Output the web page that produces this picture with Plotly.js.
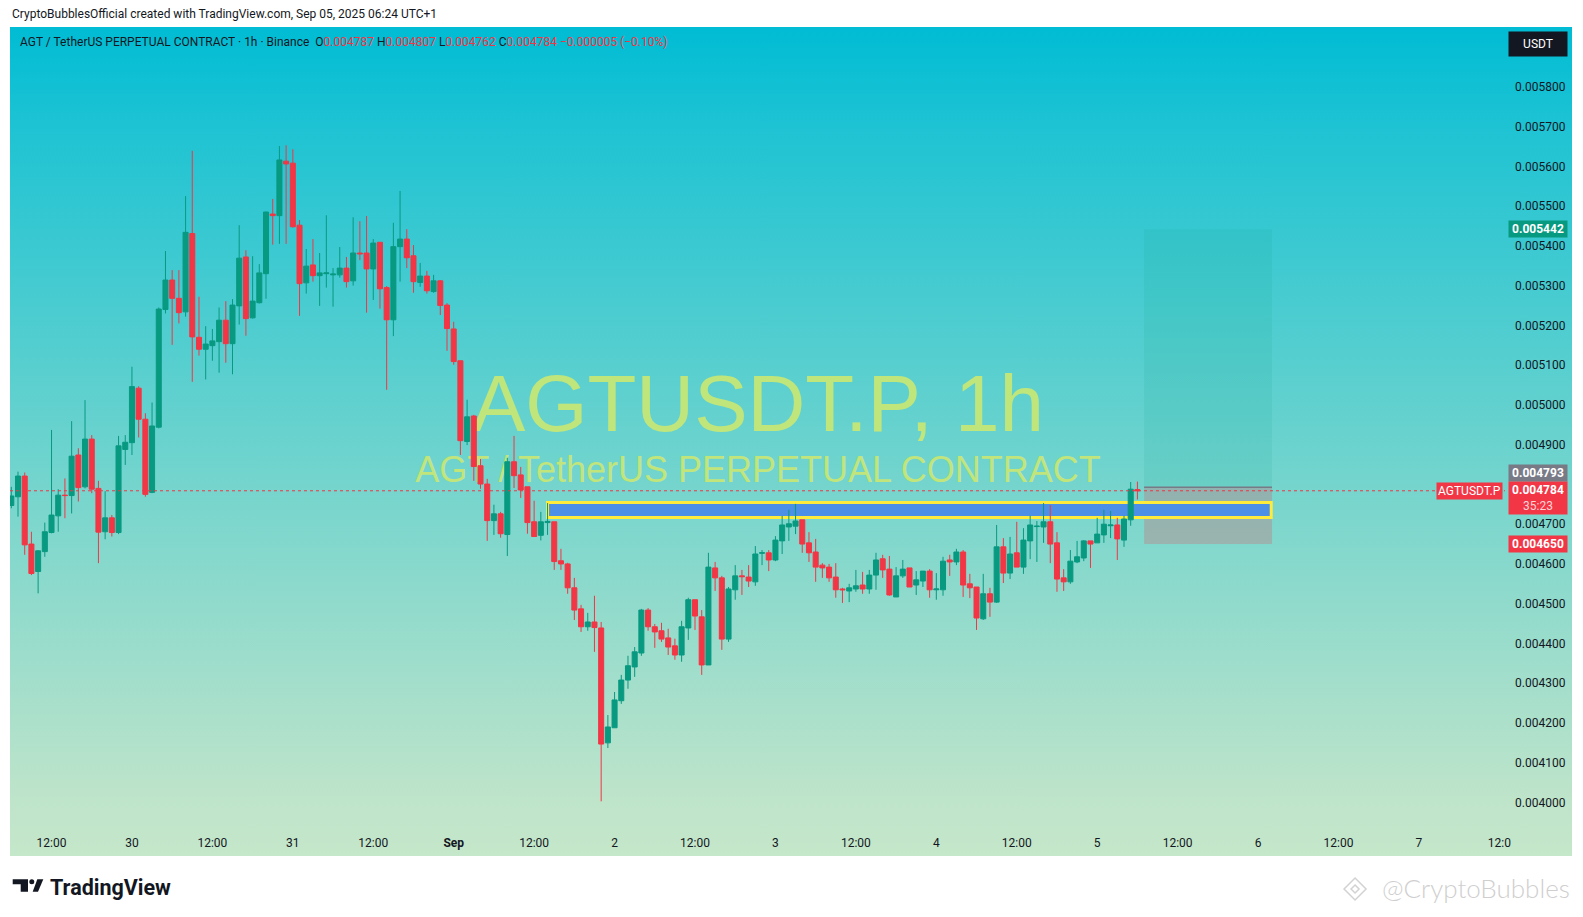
<!DOCTYPE html>
<html><head><meta charset="utf-8">
<script src="https://cdn.plot.ly/plotly-3.0.1.min.js"></script>
<style>
html,body{margin:0;padding:0;background:#fff;overflow:hidden}
#frame{position:absolute;left:10px;top:27px;width:1562px;height:829px;
background:linear-gradient(180deg,rgb(0,188,212) 0%,rgb(30,195,211) 12%,rgb(118,213,205) 56%,rgb(190,228,202) 93%,rgb(197,231,202) 100%);}
#chart{position:absolute;left:0;top:0;width:1583px;height:917px}
</style></head><body>
<div id="frame"></div><div id="chart"></div>
<script>
// AGT/USDT perpetual, 1h candles, first candle 2025-08-29 06:00
const firstCandle = '2025-08-29T06:00:00Z';
const openP = [0.004747,0.004769,0.004821,0.004650,0.004581,0.004631,0.004679,0.004721,0.004773,0.004772,
0.004874,0.004794,0.004914,0.004790,0.004681,0.004716,0.004679,0.004888,0.004905,0.005042,
0.004964,0.004780,0.004944,0.005240,0.005314,0.005268,0.005234,0.005431,0.005170,0.005140,
0.005149,0.005159,0.005213,0.005154,0.005249,0.005372,0.005219,0.005257,0.005330,0.005480,
0.005476,0.005613,0.005608,0.005452,0.005307,0.005352,0.005325,0.005330,0.005327,0.005327,
0.005344,0.005312,0.005382,0.005382,0.005342,0.005409,0.005295,0.005214,0.005398,0.005417,
0.005375,0.005308,0.005324,0.005285,0.005312,0.005251,0.005191,0.005111,0.004908,0.004972,
0.004847,0.004801,0.004709,0.004726,0.004674,0.004857,0.004824,0.004794,0.004706,0.004672,
0.004704,0.004706,0.004608,0.004600,0.004540,0.004487,0.004442,0.004454,0.004439,0.004150,
0.004188,0.004256,0.004308,0.004341,0.004376,0.004484,0.004442,0.004432,0.004414,0.004394,
0.004371,0.004439,0.004510,0.004467,0.004346,0.004590,0.004565,0.004411,0.004535,0.004570,
0.004567,0.004555,0.004627,0.004628,0.004610,0.004658,0.004693,0.004695,0.004711,0.004653,
0.004630,0.004597,0.004592,0.004567,0.004537,0.004532,0.004537,0.004547,0.004537,0.004572,
0.004613,0.004587,0.004517,0.004570,0.004590,0.004547,0.004557,0.004582,0.004535,0.004535,
0.004610,0.004605,0.004630,0.004550,0.004542,0.004462,0.004525,0.004504,0.004643,0.004577,
0.004628,0.004592,0.004658,0.004694,0.004693,0.004706,0.004653,0.004565,0.004555,0.004605,
0.004615,0.004658,0.004653,0.004673,0.004696,0.004698,0.004660,0.004711,0.004787];
const highP = [0.004794,0.004832,0.004830,0.004681,0.004635,0.004704,0.004937,0.004788,0.004815,0.004959,
0.004891,0.005012,0.004924,0.004809,0.004783,0.004723,0.004922,0.004924,0.005096,0.005047,
0.004979,0.005006,0.005245,0.005387,0.005339,0.005339,0.005525,0.005639,0.005272,0.005198,
0.005191,0.005245,0.005261,0.005266,0.005452,0.005389,0.005374,0.005354,0.005486,0.005518,
0.005651,0.005653,0.005643,0.005465,0.005392,0.005417,0.005382,0.005477,0.005344,0.005397,
0.005372,0.005472,0.005462,0.005475,0.005417,0.005409,0.005299,0.005458,0.005538,0.005442,
0.005402,0.005357,0.005337,0.005327,0.005314,0.005256,0.005209,0.005111,0.005013,0.004975,
0.004864,0.004814,0.004749,0.004731,0.004867,0.004922,0.004844,0.004794,0.004759,0.004731,
0.004753,0.004706,0.004638,0.004603,0.004565,0.004497,0.004477,0.004520,0.004454,0.004220,
0.004278,0.004321,0.004369,0.004391,0.004487,0.004489,0.004449,0.004452,0.004437,0.004412,
0.004457,0.004515,0.004510,0.004484,0.004628,0.004605,0.004570,0.004542,0.004597,0.004585,
0.004597,0.004645,0.004635,0.004635,0.004670,0.004721,0.004736,0.004751,0.004711,0.004680,
0.004663,0.004602,0.004600,0.004602,0.004540,0.004550,0.004585,0.004580,0.004585,0.004628,
0.004623,0.004620,0.004592,0.004610,0.004590,0.004582,0.004582,0.004587,0.004577,0.004618,
0.004623,0.004638,0.004635,0.004575,0.004542,0.004575,0.004540,0.004698,0.004665,0.004668,
0.004706,0.004690,0.004721,0.004708,0.004753,0.004748,0.004680,0.004587,0.004635,0.004658,
0.004660,0.004658,0.004716,0.004736,0.004733,0.004716,0.004721,0.004806,0.004807];
const lowP = [0.004740,0.004719,0.004623,0.004572,0.004526,0.004618,0.004677,0.004681,0.004715,0.004727,
0.004757,0.004790,0.004778,0.004602,0.004662,0.004669,0.004675,0.004849,0.004874,0.004918,
0.004769,0.004778,0.004941,0.005230,0.005151,0.005205,0.005222,0.005058,0.005124,0.005064,
0.005111,0.005081,0.005106,0.005077,0.005202,0.005174,0.005217,0.005255,0.005267,0.005403,
0.005405,0.005405,0.005446,0.005224,0.005280,0.005310,0.005249,0.005295,0.005247,0.005320,
0.005295,0.005300,0.005364,0.005232,0.005264,0.005242,0.005038,0.005173,0.005310,0.005344,
0.005282,0.005297,0.005280,0.005282,0.005226,0.005136,0.005101,0.004874,0.004899,0.004809,
0.004789,0.004658,0.004673,0.004666,0.004620,0.004791,0.004766,0.004676,0.004668,0.004659,
0.004673,0.004585,0.004585,0.004525,0.004459,0.004429,0.004432,0.004379,0.004003,0.004137,
0.004188,0.004248,0.004286,0.004316,0.004369,0.004432,0.004389,0.004404,0.004371,0.004359,
0.004354,0.004409,0.004434,0.004321,0.004346,0.004532,0.004384,0.004404,0.004510,0.004522,
0.004542,0.004545,0.004597,0.004582,0.004607,0.004625,0.004658,0.004675,0.004628,0.004605,
0.004555,0.004565,0.004555,0.004515,0.004502,0.004504,0.004530,0.004525,0.004525,0.004535,
0.004565,0.004520,0.004517,0.004565,0.004542,0.004522,0.004542,0.004515,0.004510,0.004520,
0.004570,0.004597,0.004517,0.004514,0.004434,0.004459,0.004467,0.004502,0.004552,0.004562,
0.004592,0.004575,0.004612,0.004605,0.004653,0.004602,0.004530,0.004532,0.004550,0.004602,
0.004607,0.004590,0.004653,0.004653,0.004665,0.004610,0.004643,0.004696,0.004762];
const closeP = [0.004771,0.004821,0.004648,0.004576,0.004633,0.004681,0.004723,0.004773,0.004772,0.004871,
0.004792,0.004914,0.004788,0.004680,0.004716,0.004679,0.004897,0.004906,0.005046,0.004964,
0.004775,0.004947,0.005241,0.005314,0.005268,0.005232,0.005434,0.005171,0.005140,0.005153,
0.005161,0.005213,0.005154,0.005251,0.005369,0.005217,0.005261,0.005332,0.005485,0.005476,
0.005616,0.005606,0.005448,0.005305,0.005349,0.005325,0.005332,0.005332,0.005329,0.005344,
0.005310,0.005382,0.005380,0.005342,0.005407,0.005292,0.005214,0.005398,0.005417,0.005370,
0.005310,0.005324,0.005287,0.005312,0.005250,0.005192,0.005109,0.004910,0.004970,0.004845,
0.004801,0.004709,0.004726,0.004676,0.004857,0.004822,0.004786,0.004704,0.004669,0.004706,
0.004707,0.004606,0.004600,0.004540,0.004484,0.004442,0.004454,0.004440,0.004147,0.004190,
0.004258,0.004308,0.004344,0.004379,0.004484,0.004442,0.004429,0.004411,0.004391,0.004371,
0.004442,0.004510,0.004469,0.004346,0.004592,0.004565,0.004411,0.004537,0.004570,0.004568,
0.004557,0.004625,0.004628,0.004610,0.004660,0.004698,0.004701,0.004708,0.004650,0.004628,
0.004592,0.004590,0.004565,0.004535,0.004535,0.004540,0.004545,0.004537,0.004572,0.004610,
0.004585,0.004522,0.004570,0.004587,0.004542,0.004560,0.004582,0.004535,0.004537,0.004607,
0.004605,0.004630,0.004547,0.004540,0.004464,0.004525,0.004504,0.004643,0.004577,0.004625,
0.004592,0.004660,0.004698,0.004695,0.004706,0.004650,0.004562,0.004555,0.004607,0.004618,
0.004658,0.004650,0.004675,0.004700,0.004698,0.004663,0.004713,0.004788,0.004784];

const tickDates = ['2025-08-29 12:00','2025-08-30 00:00','2025-08-30 12:00','2025-08-31 00:00','2025-08-31 12:00',
'2025-09-01 00:00','2025-09-01 12:00','2025-09-02 00:00','2025-09-02 12:00','2025-09-03 00:00','2025-09-03 12:00',
'2025-09-04 00:00','2025-09-04 12:00','2025-09-05 00:00','2025-09-05 12:00','2025-09-06 00:00','2025-09-06 12:00',
'2025-09-07 00:00','2025-09-07 12:00'];
const tickLabels = ['12:00','30','12:00','31','12:00','<b>Sep</b>','12:00','2','12:00','3','12:00','4','12:00','5','12:00','6','12:00','7','12:0'];
// price scale labels visible in the reference (0.004800 is hidden behind the price tags)
const priceTicks = [0.0040,0.0041,0.0042,0.0043,0.0044,0.0045,0.0046,0.0047,0.0049,0.0050,0.0051,0.0052,0.0053,0.0054,0.0055,0.0056,0.0057,0.0058];

const lastPrice = 0.004784;
const entryPrice = 0.004793;
const targetPrice = 0.005442;
const stopPrice = 0.004650;
const zoneTop = 0.0047545, zoneBottom = 0.004717;
const zoneStart = '2025-09-01 14:00', zoneEnd = '2025-09-06 01:58';
const posStart = '2025-09-05 07:00', posEnd = '2025-09-06 02:05';
const countdown = '35:23';
const ohlcHeader = {o:'0.004787', h:'0.004807', l:'0.004762', c:'0.004784', chg:'−0.000005 (−0.10%)'};

const t0 = Date.parse(firstCandle);
const times = openP.map((_, i) => new Date(t0 + i*3600000).toISOString().slice(0,16).replace('T',' '));

const GREEN = '#089981', RED = '#f23645', TXT = '#131722';
const FONT = 'Roboto, "Liberation Sans", Arial, sans-serif';

const trace = {
  type:'candlestick', x:times, open:openP, high:highP, low:lowP, close:closeP,
  increasing:{line:{color:GREEN,width:1}, fillcolor:GREEN},
  decreasing:{line:{color:RED,width:1}, fillcolor:RED},
  whiskerwidth:0, hoverinfo:'skip', showlegend:false
};

const wmColor = 'rgba(205,232,112,0.88)';
const shapes = [
  {type:'rect', xref:'paper', yref:'paper', x0:0.2003, x1:0.8003, y0:0.5105, y1:0.5705, layer:'below',
   line:{width:0}, fillcolor:'rgba(0,0,0,0)',
   label:{text:'AGTUSDT.P, 1h', textposition:'middle center', font:{size:80, color:wmColor, family:'"Liberation Sans", Arial, sans-serif'}}},
  {type:'rect', xref:'paper', yref:'paper', x0:0.2003, x1:0.8003, y0:0.4307, y1:0.4707, layer:'below',
   line:{width:0}, fillcolor:'rgba(0,0,0,0)',
   label:{text:'AGT / TetherUS PERPETUAL CONTRACT', textposition:'middle center', font:{size:36, color:wmColor, family:'"Liberation Sans", Arial, sans-serif'}}},
  {type:'rect', xref:'x', yref:'y', x0:posStart, x1:posEnd, y0:entryPrice, y1:targetPrice, layer:'below',
   line:{width:0}, fillcolor:'rgba(8,153,129,0.1)'},
  {type:'rect', xref:'x', yref:'y', x0:posStart, x1:posEnd, y0:stopPrice, y1:entryPrice, layer:'below',
   line:{width:0}, fillcolor:'rgba(242,54,69,0.22)'},
  {type:'line', xref:'x', yref:'y', x0:posStart, x1:posEnd, y0:entryPrice, y1:entryPrice, layer:'below',
   line:{color:'#787b86', width:1.5}},
  {type:'rect', xref:'x', yref:'y', x0:zoneStart, x1:zoneEnd, y0:zoneBottom, y1:zoneTop, layer:'below',
   line:{color:'#ffeb3b', width:3}, fillcolor:'#4c8fe6'},
  {type:'line', xref:'paper', yref:'y', x0:0, x1:1, y0:lastPrice, y1:lastPrice, layer:'above',
   line:{color:RED, width:1, dash:'dot'}},
  // TradingView logo
  {type:'path', xref:'paper', yref:'paper', xsizemode:'pixel', ysizemode:'pixel', xanchor:0, yanchor:0,
   path:'M2.7,-51.3 L18,-51.3 L18,-63.7 L10.7,-63.7 L10.7,-56.3 L2.7,-56.3 Z', fillcolor:TXT, line:{width:0}},
  {type:'circle', xref:'paper', yref:'paper', xsizemode:'pixel', ysizemode:'pixel', xanchor:0, yanchor:0,
   x0:19.3, x1:24.3, y0:-56.3, y1:-51.3, fillcolor:TXT, line:{width:0}},
  {type:'path', xref:'paper', yref:'paper', xsizemode:'pixel', ysizemode:'pixel', xanchor:0, yanchor:0,
   path:'M22.7,-63.7 L28,-63.7 L33.3,-51.3 L27.3,-51.3 Z', fillcolor:TXT, line:{width:0}},
  // Binance-style diamond
  {type:'path', xref:'paper', yref:'paper', xsizemode:'pixel', ysizemode:'pixel', xanchor:0.8997, yanchor:-0.07615,
   path:'M0,11 L11,0 L0,-11 L-11,0 Z', fillcolor:'rgba(0,0,0,0)', line:{color:'#d2d2d2', width:1.5}},
  {type:'path', xref:'paper', yref:'paper', xsizemode:'pixel', ysizemode:'pixel', xanchor:0.8997, yanchor:-0.07615,
   path:'M0,4 L4,0 L0,-4 L-4,0 Z', fillcolor:'rgba(0,0,0,0)', line:{color:'#d2d2d2', width:1.5}}
];

function priceLabel(y, text, bg, yshift) {
  return {xref:'paper', yref:'y', x:1, y:y, xanchor:'left', yanchor:'middle', xshift:3, yshift:yshift||0,
    text:text, showarrow:false, bgcolor:bg, borderpad:1, width:56, align:'center',
    font:{family:FONT, size:12, color:'#ffffff', weight:'bold'}};
}

const red = s => '<span style="color:'+RED+'">'+s+'</span>';
const annotations = [
  {xref:'paper', yref:'paper', x:0, y:1.0162, xanchor:'left', yanchor:'middle', showarrow:false,
   text:'CryptoBubblesOfficial created with TradingView.com, Sep 05, 2025 06:24 UTC+1', font:{family:FONT, size:12, color:TXT}},
  {xref:'paper', yref:'paper', x:0.00535, y:0.98127, xanchor:'left', yanchor:'middle', showarrow:false,
   text:'AGT / TetherUS PERPETUAL CONTRACT · 1h · Binance  O'+red(ohlcHeader.o)+' H'+red(ohlcHeader.h)+' L'+red(ohlcHeader.l)+' C'+red(ohlcHeader.c)+' '+red(ohlcHeader.chg),
   font:{family:FONT, size:12, color:TXT}},
  {xref:'paper', yref:'paper', x:1, y:0.9788, xanchor:'left', yanchor:'middle', xshift:3, showarrow:false,
   text:'USDT', bgcolor:TXT, width:56, height:22, borderpad:1, align:'center', font:{family:FONT, size:12, color:'#ffffff'}},
  priceLabel(targetPrice, targetPrice.toFixed(6), GREEN),
  priceLabel(entryPrice, entryPrice.toFixed(6), '#787b86', 14),
  priceLabel(lastPrice, lastPrice.toFixed(6)+'<br><span style="font-weight:normal;color:#fcd3d6">'+countdown+'</span>', RED, -7.5),
  priceLabel(stopPrice, stopPrice.toFixed(6), RED),
  {xref:'paper', yref:'y', x:1, y:lastPrice, xanchor:'right', yanchor:'middle', xshift:-2, showarrow:false,
   text:'AGTUSDT.P', bgcolor:RED, borderpad:1, font:{family:FONT, size:12, color:'#ffffff'}},
  {xref:'paper', yref:'paper', x:0.0254, y:-0.07366, xanchor:'left', yanchor:'middle', showarrow:false,
   text:'<b>TradingView</b>', font:{family:FONT, size:21.5, color:TXT}},
  {xref:'paper', yref:'paper', x:1.0448, y:-0.0749, xanchor:'right', yanchor:'middle', showarrow:false,
   text:'@CryptoBubbles', font:{family:'Lato, "Open Sans", sans-serif', size:26, color:'#cfcfcf', weight:300}}
];

const layout = {
  width:1583, height:917,
  margin:{l:10, r:78, t:27, b:89, pad:0},
  paper_bgcolor:'rgba(0,0,0,0)', plot_bgcolor:'rgba(0,0,0,0)',
  showlegend:false, boxgap:0.25, boxgroupgap:0,
  font:{family:FONT, size:12, color:TXT},
  xaxis:{type:'date', range:['2025-08-29 05:48:22','2025-09-07 12:50:24'], rangeslider:{visible:false},
    showgrid:false, zeroline:false, showline:false, ticks:'', tickmode:'array', tickvals:tickDates, ticktext:tickLabels,
    tickfont:{family:FONT, size:12, color:TXT}, ticklabelstandoff:6, fixedrange:true},
  yaxis:{side:'right', range:[0.0039359, 0.0059504], showgrid:false, zeroline:false, showline:false, ticks:'',
    tickmode:'array', tickvals:priceTicks, tickformat:'.6f', tickfont:{family:FONT, size:12, color:TXT}, ticklabelstandoff:9, fixedrange:true},
  shapes:shapes, annotations:annotations
};

Plotly.newPlot('chart', [trace], layout, {staticPlot:true, displayModeBar:false});
</script></body></html>
